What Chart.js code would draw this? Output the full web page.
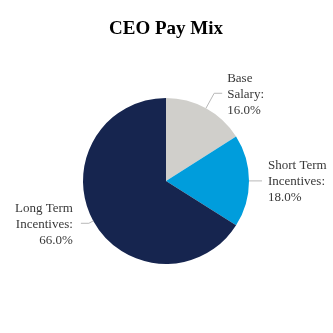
<!DOCTYPE html>
<html>
<head>
<meta charset="utf-8">
<script src="https://cdn.jsdelivr.net/npm/chart.js@4"></script>
<style>
  html, body { margin: 0; padding: 0; background: #fff; }
  #wrap { width: 333px; height: 333px; }
</style>
</head>
<body>
<div id="wrap"><canvas id="pie" width="333" height="333"></canvas></div>
<script>
// datos del gráfico
const categorias = ["Base Salary", "Short Term Incentives", "Long Term Incentives"];
const lineasEtiqueta = [["Base", "Salary:"], ["Short Term", "Incentives:"], ["Long Term", "Incentives:"]];
const valores = [16.0, 18.0, 66.0];
const colores = ["#d0cfcb", "#009ddc", "#16254f"];

// estilo de las líneas guía: salida radial, tramo horizontal, hueco hasta el texto
const guias = [
  { ext: 17, hz: 8, gap: 5 },
  { ext: 13, hz: 0, gap: 6 },
  { ext: 5, hz: 8, gap: 8 }
];

const etiquetasPlugin = {
  id: "etiquetas",
  afterDatasetsDraw(chart) {
    const ctx = chart.ctx;
    const meta = chart.getDatasetMeta(0);
    ctx.save();
    ctx.font = "13px 'Liberation Serif', 'Times New Roman', serif";
    ctx.textBaseline = "middle";
    ctx.fillStyle = "#383838";
    ctx.strokeStyle = "#b8b8b8";
    ctx.lineWidth = 1;
    meta.data.forEach((arc, i) => {
      const p = arc.getProps(["x", "y", "startAngle", "endAngle", "outerRadius"], true);
      const a = (p.startAngle + p.endAngle) / 2;
      const derecha = Math.cos(a) >= 0;
      const x0 = p.x + Math.cos(a) * p.outerRadius;
      const y0 = p.y + Math.sin(a) * p.outerRadius;
      const x1 = x0 + Math.cos(a) * guias[i].ext;
      const y1 = y0 + Math.sin(a) * guias[i].ext;
      const x2 = x1 + (derecha ? guias[i].hz : -guias[i].hz);
      ctx.beginPath();
      ctx.moveTo(x0, y0);
      ctx.lineTo(x1, y1);
      ctx.lineTo(x2, y1);
      ctx.stroke();

      const lineas = lineasEtiqueta[i].concat([valores[i].toFixed(1) + "%"]);
      const tx = x2 + (derecha ? guias[i].gap : -guias[i].gap);
      ctx.textAlign = derecha ? "left" : "right";
      const alto = 16;
      lineas.forEach((t, k) => {
        ctx.fillText(t, tx, y1 + (k - 1) * alto + 1);
      });
    });
    ctx.restore();
  }
};

new Chart(document.getElementById("pie").getContext("2d"), {
  type: "pie",
  data: {
    labels: categorias,
    datasets: [{
      data: valores,
      backgroundColor: colores,
      borderWidth: 0
    }]
  },
  options: {
    responsive: false,
    animation: false,
    layout: { padding: { top: 0, bottom: 68.5, left: 83, right: 84 } },
    plugins: {
      legend: { display: false },
      tooltip: { enabled: false },
      title: {
        display: true,
        text: "CEO Pay Mix",
        color: "#000",
        font: { family: "'Liberation Serif', 'Times New Roman', serif", size: 19, weight: "bold" },
        padding: { top: 18, bottom: 56.5 }
      }
    }
  },
  plugins: [etiquetasPlugin]
});
</script>
</body>
</html>
